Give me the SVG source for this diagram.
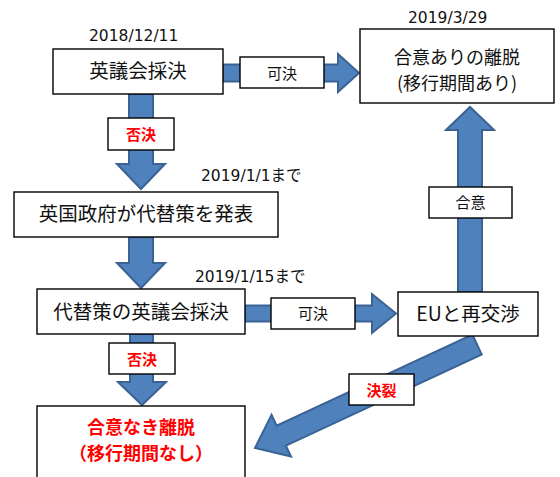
<svg xmlns="http://www.w3.org/2000/svg" width="560" height="477" viewBox="0 0 560 477">
<style>
.arrow{fill:#4F81BD;stroke:#3A6394;stroke-width:2;stroke-linejoin:miter}
.box{fill:#fff;stroke:#000;stroke-width:1.4}
.t{font-family:"Noto Sans CJK JP","DejaVu Sans",sans-serif;fill:#111;text-anchor:middle}
.big{font-size:19.5px}
.mid{font-size:18px}
.small{font-size:15px}
.red{fill:#FF0000;font-weight:bold}
.date{font-family:"DejaVu Sans","Noto Sans CJK JP",sans-serif;font-size:15.5px;fill:#111}
</style>
<rect width="560" height="477" fill="#fff"/>
<g id="connectors">
  <polygon class="arrow" points="223,64.5 338,64.5 338,54 359,73 338,92 338,81.5 223,81.5"/>
  <polygon class="arrow" points="245,305.5 372,305.5 372,294 396,313.5 372,333 372,321.5 245,321.5"/>
  <polygon class="arrow" points="129,94 153,94 153,164 165,164 141,189 117,164 129,164"/>
  <polygon class="arrow" points="129,237 153,237 153,263 165,263 141,288 117,263 129,263"/>
  <polygon class="arrow" points="130,334 153,334 153,382 166,382 142,405 118,382 130,382"/>
  <polygon class="arrow" points="458,292 458,130 446,130 470,107 494,130 482,130 482,292"/>
  <polygon class="arrow" transform="translate(255,448) rotate(-25)" points="0,0 29,-23 29,-11 245,-11 245,11 29,11 29,23"/>
  <g id="label-kaketsu1"><rect class="box" x="240" y="57" width="84" height="31"/><text class="t small" x="282" y="78.5">可決</text></g>
  <g id="label-kaketsu2"><rect class="box" x="271" y="298" width="84" height="31"/><text class="t small" x="313" y="319">可決</text></g>
  <g id="label-hiketsu1"><rect class="box" x="108" y="118" width="66" height="32"/><text class="t small red" x="141" y="140">否決</text></g>
  <g id="label-hiketsu2"><rect class="box" x="109" y="343" width="66" height="31"/><text class="t small red" x="142" y="364.5">否決</text></g>
  <g id="label-goi"><rect class="box" x="429" y="187" width="83" height="31"/><text class="t small" x="470.5" y="208">合意</text></g>
  <g id="label-ketsuretsu"><rect class="box" x="349" y="374" width="65" height="31"/><text class="t small red" x="381.5" y="395.5">決裂</text></g>
</g>
<g id="node-vote1">
  <text class="date" x="89" y="41">2018/12/11</text>
  <rect class="box" x="53" y="49" width="170" height="45"/>
  <text class="t big" x="138" y="78">英議会採決</text>
</g>
<g id="node-deal">
  <text class="date" x="408" y="23">2019/3/29</text>
  <rect class="box" x="360" y="29" width="194" height="74"/>
  <text class="t mid" x="457" y="64">合意ありの離脱</text>
  <text class="t mid" x="457" y="90">(移行期間あり)</text>
</g>
<g id="node-plan">
  <text class="date" x="201" y="181">2019/1/1まで</text>
  <rect class="box" x="14" y="192" width="264" height="45"/>
  <text class="t big" x="146" y="221">英国政府が代替策を発表</text>
</g>
<g id="node-vote2">
  <text class="date" x="195" y="282">2019/1/15まで</text>
  <rect class="box" x="37" y="289" width="208" height="45"/>
  <text class="t big" x="141" y="318.5">代替策の英議会採決</text>
</g>
<g id="node-eu">
  <rect class="box" x="398" y="292" width="140" height="44"/>
  <text class="t big" x="468" y="321">EUと再交渉</text>
</g>
<g id="node-nodeal">
  <rect class="box" x="37" y="406" width="208" height="80"/>
  <text class="t mid red" x="141" y="434">合意なき離脱</text>
  <text class="t mid red" x="141" y="460">（移行期間なし）</text>
</g>
</svg>
